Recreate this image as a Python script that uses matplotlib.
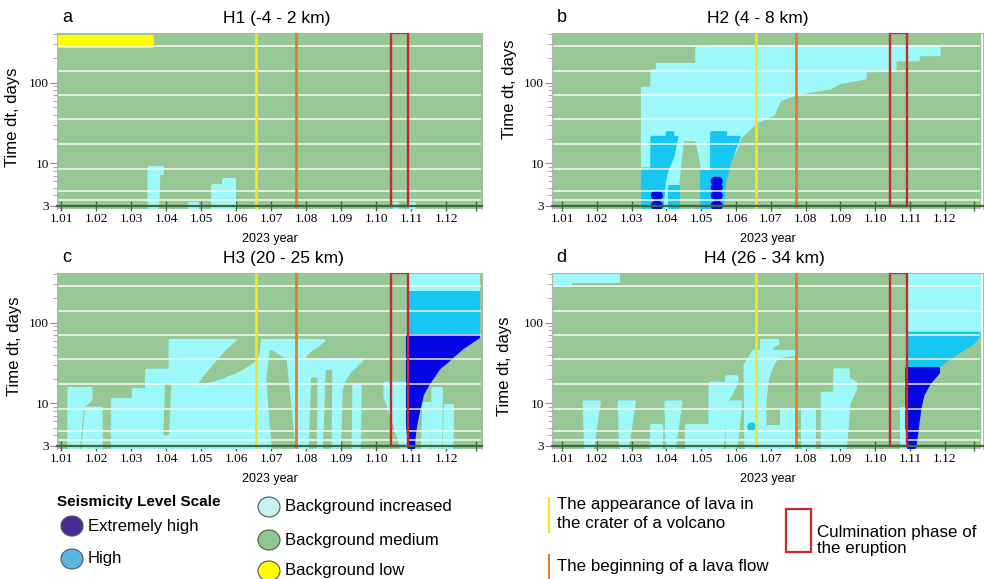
import matplotlib
matplotlib.use("Agg")
import matplotlib.pyplot as plt
from matplotlib.patches import Rectangle, Ellipse
from matplotlib.ticker import FixedLocator, NullFormatter

SANS = "Liberation Sans"
SERIF = "Liberation Serif"
plt.rcParams["font.family"] = SERIF

# colours of the seismicity levels
LEVEL_COLORS = {
    "extreme": "#0707e6",
    "high": "#17c7f3",
    "increased": "#9df9f9",
    "medium": "#96c795",
    "low": "#ffff00",
}

TITLES = ["H1 (-4 - 2 km)", "H2 (4 - 8 km)", "H3 (20 - 25 km)", "H4 (26 - 34 km)"]
LETTERS = ["a", "b", "c", "d"]
XTICKS = [1.01, 1.02, 1.03, 1.04, 1.05, 1.06, 1.07, 1.08, 1.09, 1.10, 1.11, 1.12]
XTICK_LABELS = ["1.01", "1.02", "1.03", "1.04", "1.05", "1.06", "1.07", "1.08",
                "1.09", "1.10", "1.11", "1.12"]
# dt bins are separated by thin white gaps
BAND_EDGES = [3.5, 4.5, 8.5, 17.5, 35.5, 70.5, 140.5, 280.5]
DT_MIN, DT_MAX = 2.8, 398

# events (2023 year)
LAVA_CRATER = 1.0657
LAVA_FLOW = 1.0772
CULMINATION = (1.1042, 1.1092)

# anomaly regions: (level, [(time, dt), ...])
H1_REGIONS = [
    ("low", [(1.0094, 287), (1.0094, 378), (1.0360, 378), (1.0360, 287)]),
    ("increased", [(1.0351, 2.85), (1.0351, 8.9), (1.0389, 8.9), (1.0389, 7.5),
                   (1.0379, 7.5), (1.0376, 2.85)]),
    ("increased", [(1.0465, 2.85), (1.0465, 3.25), (1.0489, 3.25), (1.0489, 2.85)]),
    ("increased", [(1.0532, 2.85), (1.0532, 5.4), (1.0563, 5.4), (1.0563, 6.4),
                   (1.0594, 6.4), (1.0594, 2.85)]),
    ("increased", [(1.1050, 2.85), (1.1050, 3.2), (1.1060, 3.2), (1.1060, 2.85)]),
    ("increased", [(1.1096, 2.85), (1.1096, 3.2), (1.1108, 3.2), (1.1108, 2.85)]),
]
H1_DOTS = []

H2_REGIONS = [
    ("increased", [(1.0331, 2.85), (1.0331, 85), (1.0358, 85), (1.0358, 140),
                   (1.0374, 140), (1.0374, 168), (1.0487, 168), (1.0487, 270),
                   (1.0530, 270), (1.0530, 277), (1.1184, 277), (1.1184, 222),
                   (1.1124, 222), (1.1124, 192), (1.1057, 192), (1.1057, 142),
                   (1.0971, 140), (1.0971, 114), (1.0899, 100), (1.0871, 86),
                   (1.0790, 75), (1.0755, 68), (1.0726, 61), (1.0707, 40),
                   (1.0659, 32.6), (1.0612, 21), (1.0600, 15), (1.0570, 9),
                   (1.0555, 2.85)]),
    ("medium", [(1.0454, 18), (1.0480, 18), (1.0495, 8.5), (1.0495, 2.85),
                (1.0438, 2.85), (1.0442, 6)]),
    ("high", [(1.0331, 2.85), (1.0331, 8.5), (1.0358, 8.5), (1.0358, 21),
              (1.0402, 21), (1.0402, 24), (1.0418, 24), (1.0418, 21),
              (1.0430, 21), (1.0418, 12), (1.0403, 8.5), (1.0394, 6),
              (1.0388, 2.85)]),
    ("high", [(1.0407, 2.85), (1.0407, 5.3), (1.0432, 5.3), (1.0432, 2.85)]),
    ("high", [(1.0499, 2.85), (1.0499, 8.0), (1.0531, 8.0), (1.0531, 2.85)]),
    ("high", [(1.0530, 2.85), (1.0530, 24), (1.0570, 24), (1.0570, 21),
              (1.0609, 21), (1.0596, 15), (1.0581, 10), (1.0568, 6),
              (1.0560, 2.85)]),
]
# single dots: (level, time, dt)
H2_DOTS = [
    ("extreme", 1.0368, 3), ("extreme", 1.0377, 3),
    ("extreme", 1.0368, 4), ("extreme", 1.0377, 4),
    ("extreme", 1.0540, 3), ("extreme", 1.0549, 3),
    ("extreme", 1.0540, 4), ("extreme", 1.0549, 4),
    ("extreme", 1.0540, 5), ("extreme", 1.0549, 5),
    ("extreme", 1.0540, 6), ("extreme", 1.0549, 6),
]

H3_REGIONS = [
    ("increased", [(1.0122, 2.85), (1.0122, 15.3), (1.0185, 15.3), (1.0185, 11.2),
                   (1.0160, 8.8), (1.0150, 2.85)]),
    ("increased", [(1.0162, 2.85), (1.0172, 8.7), (1.0214, 8.7), (1.0214, 2.85)]),
    ("increased", [(1.0246, 2.85), (1.0246, 11.1), (1.0306, 11.1), (1.0306, 14.8),
                   (1.0344, 14.8), (1.0344, 25.8), (1.0411, 25.8), (1.0411, 60),
                   (1.0850, 60), (1.0830, 51), (1.0808, 44), (1.0795, 38),
                   (1.0800, 34.5), (1.0959, 34.5), (1.0945, 30), (1.0925, 25),
                   (1.0910, 20), (1.0900, 15), (1.0895, 2.85)]),
    ("medium", [(1.0610, 61.5), (1.0667, 61.5), (1.0660, 38), (1.0648, 33),
                (1.0610, 26), (1.0560, 21), (1.0496, 17.5), (1.0520, 24),
                (1.0545, 32), (1.0575, 45)]),
    ("medium", [(1.0401, 17), (1.0410, 17), (1.0404, 4.2), (1.0396, 4.2)]),
    ("medium", [(1.0700, 44), (1.0740, 34), (1.0765, 2.85), (1.0705, 2.85),
                (1.0690, 20)]),
    ("medium", [(1.0818, 20), (1.0828, 20), (1.0826, 2.85), (1.0812, 2.85)]),
    ("medium", [(1.0860, 25), (1.0870, 25), (1.0868, 2.85), (1.0852, 2.85)]),
    ("increased", [(1.0934, 2.85), (1.0936, 16.5), (1.0954, 16.5), (1.0952, 2.85)]),
    ("increased", [(1.1025, 17.7), (1.1085, 17.7), (1.1085, 2.85), (1.1072, 2.85),
                   (1.1040, 8), (1.1025, 12)]),
    ("increased", [(1.1094, 245), (1.1094, 396), (1.1292, 396), (1.1292, 245)]),
    ("high", [(1.1094, 70), (1.1094, 243), (1.1292, 243), (1.1292, 70)]),
    ("extreme", [(1.1100, 2.85), (1.1090, 4.5), (1.1089, 6), (1.1089, 69),
                 (1.1292, 69), (1.1292, 66), (1.1246, 48.5), (1.1218, 38),
                 (1.1203, 33), (1.1180, 27.5), (1.1151, 18), (1.1132, 12.9),
                 (1.1123, 8.8), (1.1113, 5.5), (1.1108, 3.8), (1.1106, 2.85)]),
    ("increased", [(1.1132, 2.85), (1.1136, 10), (1.1154, 10), (1.1150, 2.85)]),
    ("increased", [(1.1160, 2.85), (1.1162, 15.3), (1.1186, 15.3), (1.1184, 2.85)]),
    ("increased", [(1.1194, 2.85), (1.1197, 9.4), (1.1218, 9.4), (1.1216, 2.85)]),
]
H3_DOTS = [("extreme", 1.1100, 3)]

H4_REGIONS = [
    ("increased", [(1.0077, 290), (1.0077, 396), (1.0260, 396), (1.0260, 330),
                   (1.0123, 330), (1.0123, 290)]),
    ("increased", [(1.0168, 2.85), (1.0163, 10.4), (1.0207, 10.4), (1.0188, 2.85)]),
    ("increased", [(1.0268, 2.85), (1.0264, 10.4), (1.0308, 10.4), (1.0288, 2.85)]),
    ("increased", [(1.0355, 2.85), (1.0355, 5.4), (1.0384, 5.4), (1.0384, 2.85)]),
    ("increased", [(1.0402, 2.85), (1.0398, 10.4), (1.0442, 10.4), (1.0423, 2.85)]),
    ("increased", [(1.0455, 2.85), (1.0455, 5.4), (1.0525, 5.4), (1.0525, 2.85)]),
    ("increased", [(1.0525, 2.85), (1.0525, 17.7), (1.0573, 17.7), (1.0573, 21.4),
                   (1.0602, 21.4), (1.0602, 18), (1.0590, 14), (1.0573, 10.6),
                   (1.0560, 2.85)]),
    ("increased", [(1.0575, 2.85), (1.0573, 10.4), (1.0614, 10.4), (1.0600, 2.85)]),
    ("increased", [(1.0628, 2.85), (1.0626, 30), (1.0640, 37), (1.0650, 44),
                   (1.0673, 44), (1.0673, 60), (1.0720, 60), (1.0720, 55),
                   (1.0705, 50), (1.0700, 44), (1.0768, 44), (1.0768, 40),
                   (1.0720, 38), (1.0705, 30), (1.0690, 20), (1.0683, 10),
                   (1.0683, 2.85)]),
    ("increased", [(1.0690, 2.85), (1.0690, 5.2), (1.0720, 5.2), (1.0720, 2.85)]),
    ("increased", [(1.0728, 2.85), (1.0728, 8.6), (1.0763, 8.6), (1.0763, 2.85)]),
    ("increased", [(1.0791, 2.85), (1.0791, 8.6), (1.0825, 8.6), (1.0825, 2.85)]),
    ("increased", [(1.0848, 2.85), (1.0848, 13.3), (1.0884, 13.3), (1.0884, 26),
                   (1.0923, 26), (1.0923, 20), (1.0944, 18), (1.0944, 15),
                   (1.0925, 10), (1.0915, 2.85)]),
    ("increased", [(1.1073, 2.85), (1.1073, 8.7), (1.1090, 8.7), (1.1090, 2.85)]),
    ("increased", [(1.1097, 74), (1.1097, 396), (1.1299, 396), (1.1299, 74)]),
    ("high", [(1.1094, 27), (1.1094, 74), (1.1299, 74), (1.1299, 70),
              (1.1282, 56), (1.1244, 44), (1.1206, 34.8), (1.1177, 27)]),
    ("extreme", [(1.1100, 2.85), (1.1091, 5), (1.1091, 27), (1.1182, 27),
                 (1.1182, 24), (1.1157, 18), (1.1138, 12.9), (1.1129, 8.8),
                 (1.1124, 6.1), (1.1119, 4.1), (1.1114, 2.85)]),
]
H4_DOTS = [("high", 1.0645, 5.1), ("extreme", 1.1102, 3)]

PANELS = [
    (H1_REGIONS, H1_DOTS, (1.0088, 1.1302), (1.0094, 1.1297)),
    (H2_REGIONS, H2_DOTS, (1.0071, 1.1310), (1.0076, 1.1299)),
    (H3_REGIONS, H3_DOTS, (1.0088, 1.1302), (1.0094, 1.1297)),
    (H4_REGIONS, H4_DOTS, (1.0071, 1.1310), (1.0076, 1.1299)),
]

W, H = 984, 579
fig = plt.figure(figsize=(W / 100, H / 100), dpi=100)

boxes = [(57, 33, 482, 209), (552, 33, 983, 209), (57, 273, 482, 449), (552, 273, 983, 449)]
title_x = [0.518, 0.478, 0.532, 0.492]
ylab_pos = [(-0.087, 0.52), (-0.081, 0.68), (-0.083, 0.585), (-0.093, 0.47)]

for i, (regions, dots, xlim, green_x) in enumerate(PANELS):
    l, t, r, b = boxes[i]
    ax = fig.add_axes([l / W, 1 - b / H, (r - l) / W, (b - t) / H])
    ax.set_yscale("log")
    ax.set_xlim(*xlim)
    ax.set_ylim(2.72, 412)

    # background medium level everywhere, drawn with rounded corners like the dot rows
    gx = [green_x[0], green_x[0], green_x[1], green_x[1]]
    gy = [DT_MIN + 0.05, DT_MAX, DT_MAX, DT_MIN + 0.05]
    ax.fill(gx, gy, facecolor=LEVEL_COLORS["medium"], edgecolor=LEVEL_COLORS["medium"],
            lw=2.5, joinstyle="round", zorder=1)
    for level, pts in regions:
        xs = [p[0] for p in pts]
        ys = [p[1] for p in pts]
        ax.fill(xs, ys, facecolor=LEVEL_COLORS[level], edgecolor=LEVEL_COLORS[level],
                lw=2.2, joinstyle="round", zorder=2)
    for level, x, dt in dots:
        ax.scatter(x, dt, s=42, color=LEVEL_COLORS[level], edgecolors="none", zorder=3)

    for edge in BAND_EDGES:
        ax.plot([green_x[0], green_x[1]], [edge, edge], color="white", lw=1.1, alpha=0.9,
                zorder=4)

    ax.axvline(LAVA_CRATER, color="#f2e61a", lw=2.0, zorder=5)
    ax.axvline(LAVA_FLOW, color="#de7f2c", lw=2.0, zorder=5)
    ax.add_patch(Rectangle((CULMINATION[0], 2.95), CULMINATION[1] - CULMINATION[0], 409,
                           facecolor="none", edgecolor="#c9282c", lw=1.7, zorder=6))

    for side in ["left", "top", "right"]:
        ax.spines[side].set_color("#b5b5b5")
        ax.spines[side].set_linewidth(0.8)
    ax.spines["bottom"].set_position(("data", 3))
    ax.spines["bottom"].set_color("#3c6a3c")
    ax.spines["bottom"].set_linewidth(1.6)
    ax.spines["bottom"].set_zorder(7)

    ax.set_xticks(XTICKS + [1.1285])
    ax.set_xticklabels(XTICK_LABELS + [""])
    ax.tick_params(axis="x", direction="inout", length=7, width=1, color="#3c6a3c",
                   labelsize=9.5, pad=2)
    ax.set_yticks([3, 10, 100])
    ax.set_yticklabels(["3", "10", "100"])
    ax.yaxis.set_minor_locator(FixedLocator([4, 5, 6, 7, 8, 9, 20, 30, 40, 50, 60, 70, 80, 90,
                                             200, 300, 400]))
    ax.yaxis.set_minor_formatter(NullFormatter())
    ax.tick_params(axis="y", which="major", length=5, width=0.8, color="#888888",
                   labelsize=9.5, pad=1)
    ax.tick_params(axis="y", which="minor", length=3, width=0.6, color="#999999")

    ax.set_ylabel("Time dt, days", family=SANS, fontsize=12)
    ax.yaxis.set_label_coords(*ylab_pos[i])
    ax.text(0.5, -0.17, "2023 year", transform=ax.transAxes, ha="center", va="center",
            family=SANS, fontsize=9)
    ax.text(title_x[i], 1 + 15 / 176, TITLES[i], transform=ax.transAxes, ha="center",
            va="center", family=SANS, fontsize=12.5)
    ax.text(0.012 if i % 2 == 0 else 0.01, 1 + 15 / 176, LETTERS[i], transform=ax.transAxes,
            ha="left", va="center", family=SANS, fontsize=13)


# legend in figure pixels
def fx(px):
    return px / W


def fy(py):
    return 1 - py / H


fig.text(fx(57), fy(502), "Seismicity Level Scale", family=SANS, fontsize=11,
         fontweight="bold", va="center")
LEGEND_ITEMS = [
    ("Extremely high", "#4b2a98", 72, 526),
    ("High", "#5bb6df", 72, 559),
    ("Background increased", "#c9f1f1", 269, 507),
    ("Background medium", "#90c68f", 269, 540),
    ("Background low", "#ffff00", 269, 571),
]
for label, color, cx, cy in LEGEND_ITEMS:
    fig.patches.append(Ellipse((fx(cx), fy(cy)), 22 / W, 20 / H, transform=fig.transFigure,
                               facecolor=color, edgecolor="#555555", lw=0.8))
    fig.text(fx(cx + 16), fy(cy), label, family=SANS, fontsize=12, va="center")

fig.lines.append(plt.Line2D([fx(549), fx(549)], [fy(498), fy(532)], transform=fig.transFigure,
                            color="#f2e61a", lw=1.5))
fig.text(fx(557), fy(505), "The appearance of lava in", family=SANS, fontsize=12.2, va="center")
fig.text(fx(557), fy(523), "the crater of a volcano", family=SANS, fontsize=12.2, va="center")
fig.lines.append(plt.Line2D([fx(549), fx(549)], [fy(555), fy(579)], transform=fig.transFigure,
                            color="#de7f2c", lw=1.5))
fig.text(fx(557), fy(567), "The beginning of a lava flow", family=SANS, fontsize=12.2,
         va="center")
fig.patches.append(Rectangle((fx(786), fy(552)), 25 / W, 43 / H, transform=fig.transFigure,
                             facecolor="none", edgecolor="#c9282c", lw=1.6))
fig.text(fx(817), fy(532), "Culmination phase of", family=SANS, fontsize=12.2, va="center")
fig.text(fx(817), fy(549), "the eruption", family=SANS, fontsize=12.2, va="center")

fig.savefig("out.png", dpi=100)
